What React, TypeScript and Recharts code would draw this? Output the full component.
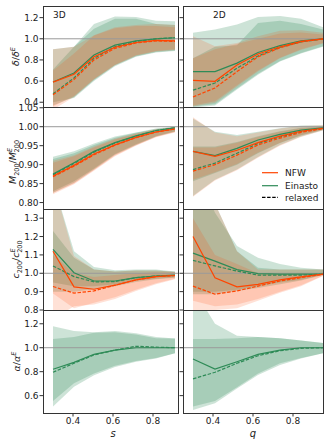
import React from "react";
import { Area, ComposedChart, Line, ReferenceLine, XAxis, YAxis } from "recharts";

const GREEN = "#2e8b57";
const ORANGE = "#ff4500";
const FONT = "'DejaVu Sans', sans-serif";

// x positions of the bins
const sGrid = [0.3, 0.405, 0.505, 0.61, 0.715, 0.815, 0.91];
const qGrid = [0.3, 0.41, 0.52, 0.625, 0.735, 0.84, 0.95];
const xTicks = [0.4, 0.6, 0.8];

// row 1: delta / delta_E
const delta3D_ein = [0.592, 0.676, 0.847, 0.94, 0.98, 1.0, 1.01];
const delta3D_nfw = [0.59, 0.665, 0.83, 0.92, 0.965, 0.985, 0.98];
const delta3D_einRel = [0.48, 0.63, 0.815, 0.925, 0.975, 1.0, 1.01];
const delta3D_nfwRel = [0.47, 0.615, 0.8, 0.91, 0.96, 0.98, 0.975];
const delta3D_gOut = [[0.4, 0.71], [0.44, 0.925], [0.6, 1.14], [0.74, 1.21], [0.83, 1.205], [0.87, 1.17], [0.885, 1.165]];
const delta3D_gIn = [[0.37, 0.9], [0.45, 0.925], [0.61, 1.096], [0.75, 1.19], [0.835, 1.19], [0.875, 1.14], [0.89, 1.13]];
const delta3D_oA = [[0.33, 0.9], [0.45, 0.925], [0.615, 1.034], [0.75, 1.11], [0.84, 1.13], [0.88, 1.14], [0.895, 1.13]];
const delta3D_oB = [[0.36, 0.7], [0.46, 0.86], [0.62, 1.03], [0.755, 1.1], [0.845, 1.12], [0.885, 1.12], [0.9, 1.11]];

const delta2D_ein = [0.69, 0.69, 0.77, 0.87, 0.935, 0.98, 1.0];
const delta2D_nfw = [0.607, 0.598, 0.753, 0.856, 0.925, 0.975, 1.0];
const delta2D_einRel = [0.514, 0.582, 0.722, 0.837, 0.92, 0.97, 1.0];
const delta2D_nfwRel = [0.45, 0.535, 0.69, 0.83, 0.915, 0.97, 1.0];
const delta2D_gOut = [[0.35, 1.056], [0.37, 1.087], [0.52, 1.136], [0.66, 1.205], [0.785, 1.215], [0.86, 1.19], [0.925, 1.11]];
const delta2D_gIn = [[0.36, 0.816], [0.38, 0.925], [0.53, 0.94], [0.67, 1.15], [0.79, 1.17], [0.865, 1.14], [0.93, 1.087]];
const delta2D_oA = [[0.36, 1.025], [0.395, 0.93], [0.55, 0.96], [0.69, 1.025], [0.816, 1.075], [0.894, 1.08], [0.956, 1.056]];
const delta2D_oB = [[0.37, 0.816], [0.41, 0.9], [0.56, 0.95], [0.7, 1.0], [0.82, 1.05], [0.9, 1.06], [0.96, 1.04]];

// row 2: M200 / M200_E
const mass3D_ein = [0.875, 0.905, 0.935, 0.958, 0.976, 0.99, 0.997];
const mass3D_nfw = [0.87, 0.898, 0.928, 0.952, 0.972, 0.986, 0.994];
const mass3D_einRel = [0.873, 0.903, 0.933, 0.957, 0.975, 0.99, 0.997];
const mass3D_nfwRel = [0.868, 0.896, 0.926, 0.951, 0.971, 0.986, 0.994];
const mass3D_gOut = [[0.826, 0.921], [0.852, 0.935], [0.887, 0.956], [0.926, 0.974], [0.952, 0.985], [0.974, 0.995], [0.987, 1.0]];
const mass3D_gIn = [[0.83, 0.915], [0.856, 0.93], [0.89, 0.952], [0.928, 0.971], [0.954, 0.984], [0.975, 0.994], [0.988, 0.999]];
const mass3D_oA = [[0.822, 0.91], [0.848, 0.925], [0.884, 0.948], [0.922, 0.968], [0.95, 0.982], [0.972, 0.993], [0.985, 0.999]];
const mass3D_oB = [[0.825, 0.905], [0.85, 0.922], [0.886, 0.945], [0.924, 0.966], [0.951, 0.981], [0.973, 0.992], [0.986, 0.998]];

const mass2D_ein = [0.935, 0.924, 0.943, 0.965, 0.98, 0.991, 0.997];
const mass2D_nfw = [0.935, 0.922, 0.938, 0.958, 0.975, 0.988, 0.996];
const mass2D_einRel = [0.887, 0.904, 0.93, 0.956, 0.973, 0.987, 0.996];
const mass2D_nfwRel = [0.883, 0.9, 0.925, 0.952, 0.97, 0.985, 0.995];
const mass2D_gOut = [[0.817, 1.022], [0.86, 0.987], [0.887, 0.978], [0.92, 0.987], [0.952, 0.996], [0.974, 1.003], [0.991, 1.004]];
const mass2D_gIn = [[0.856, 0.948], [0.878, 0.948], [0.9, 0.96], [0.93, 0.975], [0.957, 0.988], [0.977, 0.997], [0.992, 1.0]];
const mass2D_oA = [[0.815, 1.025], [0.858, 0.985], [0.885, 0.975], [0.918, 0.985], [0.95, 0.995], [0.973, 1.002], [0.99, 1.004]];
const mass2D_oB = [[0.86, 0.945], [0.88, 0.945], [0.902, 0.958], [0.932, 0.973], [0.958, 0.987], [0.978, 0.996], [0.992, 1.0]];

// row 3: c200 / c200_E
const conc3D_ein = [1.13, 1.003, 0.958, 0.958, 0.976, 0.985, 0.99];
const conc3D_nfw = [1.12, 0.926, 0.913, 0.935, 0.964, 0.982, 0.988];
const conc3D_einRel = [1.04, 0.982, 0.953, 0.955, 0.976, 0.985, 0.988];
const conc3D_nfwRel = [0.928, 0.892, 0.904, 0.935, 0.964, 0.982, 0.988];
const conc3D_gOut = [[0.9, 1.5], [0.9, 1.12], [0.913, 1.034], [0.93, 1.016], [0.953, 1.02], [0.967, 1.02], [0.976, 1.01]];
const conc3D_gIn = [[0.95, 1.23], [0.93, 1.084], [0.93, 1.02], [0.94, 1.01], [0.96, 1.015], [0.97, 1.015], [0.978, 1.008]];
const conc3D_oA = [[0.75, 1.5], [0.82, 1.094], [0.83, 1.02], [0.86, 1.01], [0.904, 1.015], [0.94, 1.015], [0.967, 1.008]];
const conc3D_oB = [[0.89, 1.1], [0.81, 1.0], [0.84, 0.98], [0.87, 0.99], [0.91, 1.0], [0.945, 1.005], [0.97, 1.005]];

const conc2D_ein = [1.11, 1.066, 1.02, 0.998, 0.995, 0.995, 0.995];
const conc2D_nfw = [1.2, 0.976, 0.926, 0.94, 0.964, 0.98, 0.995];
const conc2D_einRel = [1.07, 1.04, 1.012, 0.99, 0.99, 0.99, 0.995];
const conc2D_nfwRel = [0.93, 0.886, 0.904, 0.93, 0.958, 0.976, 0.995];
const conc2D_gOut = [[0.886, 1.6], [0.886, 1.33], [0.904, 1.148], [0.92, 1.084], [0.94, 1.05], [0.96, 1.03], [0.99, 1.02]];
const conc2D_gIn = [[0.9, 1.5], [0.9, 1.38], [0.91, 1.12], [0.93, 1.03], [0.95, 1.02], [0.965, 1.02], [0.99, 1.02]];
const conc2D_oA = [[0.7, 1.6], [0.8, 1.38], [0.81, 1.12], [0.85, 1.02], [0.894, 1.02], [0.93, 1.02], [0.985, 1.02]];
const conc2D_oB = [[0.85, 1.3], [0.82, 1.1], [0.83, 1.05], [0.86, 1.0], [0.9, 1.0], [0.935, 1.0], [0.986, 1.0]];

// row 4: alpha / alpha_E (Einasto only)
const alpha3D_ein = [0.82, 0.878, 0.945, 0.98, 1.0, 1.0, 1.0];
const alpha3D_einRel = [0.795, 0.87, 0.94, 0.98, 1.012, 1.005, 1.0];
const alpha3D_gOut = [[0.51, 1.18], [0.675, 1.14], [0.77, 1.13], [0.84, 1.14], [0.883, 1.12], [0.91, 1.09], [0.953, 1.078]];
const alpha3D_gIn = [[0.556, 1.073], [0.703, 1.09], [0.785, 1.125], [0.85, 1.13], [0.89, 1.11], [0.915, 1.08], [0.953, 1.078]];

const alpha2D_ein = [0.906, 0.822, 0.883, 0.945, 0.98, 1.0, 1.0];
const alpha2D_einRel = [0.74, 0.795, 0.87, 0.933, 0.975, 0.995, 1.0];
const alpha2D_gOut = [[0.48, 1.5], [0.537, 1.2], [0.66, 1.1], [0.773, 1.09], [0.856, 1.08], [0.91, 1.06], [0.953, 1.04]];
const alpha2D_gIn = [[0.51, 1.073], [0.556, 1.073], [0.67, 1.08], [0.785, 1.09], [0.87, 1.08], [0.915, 1.06], [0.953, 1.04]];

type Pair = number[];

function table(
  x: number[], ein: number[], nfw: number[] | null, einRel: number[], nfwRel: number[] | null,
  gOut: Pair[], gIn: Pair[], oA: Pair[] | null, oB: Pair[] | null
) {
  return x.map((v, i) => ({
    x: v,
    ein: ein[i],
    nfw: nfw ? nfw[i] : null,
    einRel: einRel[i],
    nfwRel: nfwRel ? nfwRel[i] : null,
    gOut: gOut[i],
    gIn: gIn[i],
    oA: oA ? oA[i] : null,
    oB: oB ? oB[i] : null,
  }));
}

// layout (page pixels)
const COL_X = [43, 183];
const COL_W = [135, 140];
const ROW_Y = [6, 107, 209, 310];
const ROW_H = [101, 102, 101, 103];
const X_DOMAIN: [number, number][] = [[0.25, 0.925], [0.25, 0.95]];
const PAD = 8;
const XAXIS_H = 34;

const ROWS = [
  { domain: [0.355, 1.31], ticks: [0.4, 0.6, 0.8, 1.0, 1.2], digits: 1, nfw: true },
  { domain: [0.783, 1.052], ticks: [0.8, 0.85, 0.9, 0.95, 1.0, 1.05], digits: 2, nfw: true },
  { domain: [0.8, 1.35], ticks: [0.8, 0.9, 1.0, 1.1, 1.2, 1.3], digits: 1, nfw: true },
  { domain: [0.455, 1.315], ticks: [0.6, 0.8, 1.0, 1.2], digits: 1, nfw: false },
];

const DATA = [
  [
    table(sGrid, delta3D_ein, delta3D_nfw, delta3D_einRel, delta3D_nfwRel, delta3D_gOut, delta3D_gIn, delta3D_oA, delta3D_oB),
    table(qGrid, delta2D_ein, delta2D_nfw, delta2D_einRel, delta2D_nfwRel, delta2D_gOut, delta2D_gIn, delta2D_oA, delta2D_oB),
  ],
  [
    table(sGrid, mass3D_ein, mass3D_nfw, mass3D_einRel, mass3D_nfwRel, mass3D_gOut, mass3D_gIn, mass3D_oA, mass3D_oB),
    table(qGrid, mass2D_ein, mass2D_nfw, mass2D_einRel, mass2D_nfwRel, mass2D_gOut, mass2D_gIn, mass2D_oA, mass2D_oB),
  ],
  [
    table(sGrid, conc3D_ein, conc3D_nfw, conc3D_einRel, conc3D_nfwRel, conc3D_gOut, conc3D_gIn, conc3D_oA, conc3D_oB),
    table(qGrid, conc2D_ein, conc2D_nfw, conc2D_einRel, conc2D_nfwRel, conc2D_gOut, conc2D_gIn, conc2D_oA, conc2D_oB),
  ],
  [
    table(sGrid, alpha3D_ein, null, alpha3D_einRel, null, alpha3D_gOut, alpha3D_gIn, null, null),
    table(qGrid, alpha2D_ein, null, alpha2D_einRel, null, alpha2D_gOut, alpha2D_gIn, null, null),
  ],
];

const tickStyle = { fontSize: 9, fill: "#1a1a1a", fontFamily: FONT };

function Panel({ row, col }: { row: number; col: number }) {
  const cfg = ROWS[row];
  const bottom = row === 3;
  const axisW = col === 0 ? 43 : 6;
  const plotW = COL_W[col];
  const plotH = ROW_H[row];
  const w = axisW + plotW;
  const h = PAD + plotH + (bottom ? XAXIS_H : PAD);
  return (
    <div style={{ position: "absolute", left: COL_X[col] - axisW, top: ROW_Y[row] - PAD }}>
      <ComposedChart
        width={w}
        height={h}
        data={DATA[row][col]}
        margin={{ top: PAD, right: 0, bottom: bottom ? 0 : PAD, left: 0 }}
      >
        <XAxis
          type="number"
          dataKey="x"
          domain={X_DOMAIN[col]}
          ticks={xTicks}
          allowDataOverflow
          hide={!bottom}
          height={XAXIS_H}
          axisLine={false}
          tickSize={3.5}
          tickMargin={1}
          tickLine={{ stroke: "#333" }}
          tick={tickStyle}
          tickFormatter={(v: number) => v.toFixed(1)}
        />
        <YAxis
          type="number"
          domain={cfg.domain as [number, number]}
          ticks={cfg.ticks}
          allowDataOverflow
          width={axisW}
          axisLine={false}
          tickSize={3.5}
          tickMargin={1}
          tickLine={{ stroke: "#333" }}
          tick={tickStyle}
          tickFormatter={(v: number) => (col === 0 ? v.toFixed(cfg.digits) : "")}
        />
        <Area dataKey="gOut" type="linear" stroke="none" fill={GREEN} fillOpacity={0.24} isAnimationActive={false} />
        <Area dataKey="gIn" type="linear" stroke="none" fill={GREEN} fillOpacity={0.24} isAnimationActive={false} />
        {cfg.nfw && (
          <Area dataKey="oA" type="linear" stroke="none" fill={ORANGE} fillOpacity={0.16} isAnimationActive={false} />
        )}
        {cfg.nfw && (
          <Area dataKey="oB" type="linear" stroke="none" fill={ORANGE} fillOpacity={0.16} isAnimationActive={false} />
        )}
        <ReferenceLine y={1} stroke="#9a9a9a" strokeWidth={1} />
        <Line dataKey="ein" type="linear" stroke={GREEN} strokeWidth={1.2} dot={false} isAnimationActive={false} />
        <Line dataKey="einRel" type="linear" stroke={GREEN} strokeWidth={1.2} strokeDasharray="3.5 1.6" dot={false} isAnimationActive={false} />
        {cfg.nfw && (
          <Line dataKey="nfw" type="linear" stroke={ORANGE} strokeWidth={1.2} dot={false} isAnimationActive={false} />
        )}
        {cfg.nfw && (
          <Line dataKey="nfwRel" type="linear" stroke={ORANGE} strokeWidth={1.2} strokeDasharray="3.5 1.6" dot={false} isAnimationActive={false} />
        )}
      </ComposedChart>
    </div>
  );
}

function rot(x: number, y: number) {
  return { x, y, transform: `rotate(-90 ${x} ${y})`, textAnchor: "middle" as const, fontSize: 9.5, fontFamily: FONT, fill: "#1a1a1a" };
}

export default function App() {
  const frames = [];
  for (let r = 0; r < 4; r++) {
    for (let c = 0; c < 2; c++) {
      frames.push(
        <rect key={`${r}-${c}`} x={COL_X[c] + 0.5} y={ROW_Y[r] + 0.5} width={COL_W[c]} height={ROW_H[r]} fill="none" stroke="#333" strokeWidth={1} />
      );
    }
  }
  const rowMid = (r: number) => ROW_Y[r] + ROW_H[r] / 2;
  return (
    <div style={{ position: "absolute", left: 0, top: 0, width: 329, height: 445, background: "#fff" }}>
      {[0, 1, 2, 3].map((r) => [0, 1].map((c) => <Panel key={`p${r}${c}`} row={r} col={c} />))}
      <svg width={329} height={445} style={{ position: "absolute", left: 0, top: 0, pointerEvents: "none" }}>
        {frames}
        <text x={53} y={18} fontSize={9} fontFamily={FONT} fill="#1a1a1a">3D</text>
        <text x={213} y={18} fontSize={9} fontFamily={FONT} fill="#1a1a1a">2D</text>

        <text {...rot(19, rowMid(0))}>
          <tspan fontStyle="italic">δ</tspan>/<tspan fontStyle="italic">δ</tspan>
          <tspan fontSize={6.5} dy={-4} fontStyle="italic">E</tspan>
        </text>
        <text {...rot(16, rowMid(1) + 4)}>
          <tspan fontStyle="italic">M</tspan>
          <tspan fontSize={6.5} dy={2.5}>200</tspan>
          <tspan dy={-2.5}>/</tspan>
          <tspan fontStyle="italic">M</tspan>
          <tspan fontSize={6.5} dy={-4} fontStyle="italic">E</tspan>
          <tspan fontSize={6.5} dx={-4.5} dy={6.5}>200</tspan>
        </text>
        <text {...rot(19, rowMid(2))}>
          <tspan fontStyle="italic">c</tspan>
          <tspan fontSize={6.5} dy={2.5}>200</tspan>
          <tspan dy={-2.5}>/</tspan>
          <tspan fontStyle="italic">c</tspan>
          <tspan fontSize={6.5} dy={-4} fontStyle="italic">E</tspan>
          <tspan fontSize={6.5} dx={-4.5} dy={6.5}>200</tspan>
        </text>
        <text {...rot(20, rowMid(3))}>
          <tspan fontStyle="italic">α</tspan>/<tspan fontStyle="italic">α</tspan>
          <tspan fontSize={6.5} dy={-4} fontStyle="italic">E</tspan>
        </text>

        <text x={113} y={437} fontSize={10} fontStyle="italic" textAnchor="middle" fontFamily={FONT} fill="#1a1a1a">s</text>
        <text x={253} y={437} fontSize={10} fontStyle="italic" textAnchor="middle" fontFamily={FONT} fill="#1a1a1a">q</text>

        <line x1={262} x2={278} y1={172.7} y2={172.7} stroke={ORANGE} strokeWidth={1.2} />
        <line x1={262} x2={278} y1={185.7} y2={185.7} stroke={GREEN} strokeWidth={1.2} />
        <line x1={262} x2={278} y1={197.3} y2={197.3} stroke="#000" strokeWidth={1.2} strokeDasharray="3.5 1.6" />
        <text x={285} y={176} fontSize={9} fontFamily={FONT} fill="#1a1a1a">NFW</text>
        <text x={285} y={189} fontSize={9} fontFamily={FONT} fill="#1a1a1a">Einasto</text>
        <text x={285} y={200.5} fontSize={9} fontFamily={FONT} fill="#1a1a1a">relaxed</text>
      </svg>
    </div>
  );
}
